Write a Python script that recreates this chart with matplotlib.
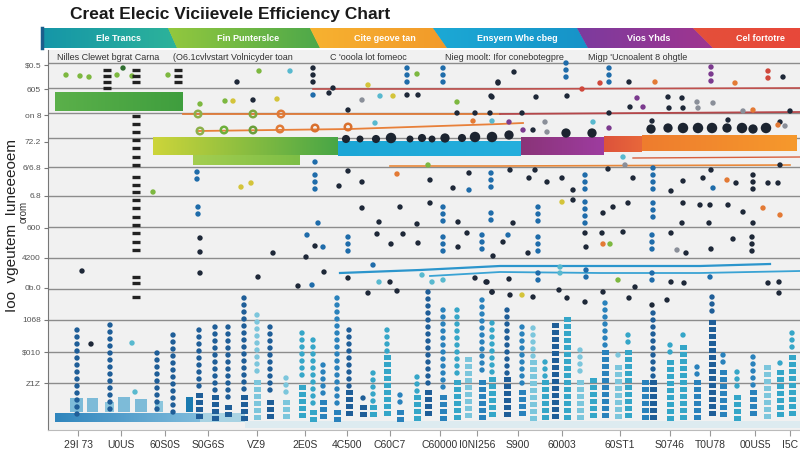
import numpy as np
import matplotlib
matplotlib.use("Agg")
import matplotlib.pyplot as plt
from matplotlib.patches import Polygon
from matplotlib.colors import LinearSegmentedColormap

plt.rcParams['font.family'] = ['Liberation Sans', 'DejaVu Sans']

# ---------------- data ----------------
title = "Creat Elecic Viciievele Efficiency Chart"
banner_labels = ["Ele Trancs", "Fin Punterslce", "Cite geove tan", "Ensyern Whe cbeg", "Vios Yhds", "Cel fortotre"]
banner_label_x = [118, 248, 385, 517, 649, 760]
banner_top = [43, 168, 310, 433, 577, 693, 800]
banner_bot = [43, 177, 320, 447, 588, 713, 800]
banner_c0 = ['#1596A8', '#93C83E', '#F7B230', '#1CA9D5', '#7C3B9E', '#E4503A']
banner_c1 = ['#2DB39A', '#4DA84A', '#F29A2A', '#1793C8', '#A0358F', '#E8483A']

sub_labels = ["Nilles Clewet bgrat Carna", "(O6.1cvlvstart Volnicyder toan", "C 'ooola lot fomeoc",
              "Nieg moolt: Ifor conebotegpre", "Migp 'Ucnoalent 8 ohgtle"]
sub_x = [57, 173, 330, 445, 588]

ytick_pos = [65, 89, 115, 142, 168, 196, 228, 258, 288, 320, 352, 383]
ytick_lab = ["$0.5", "605", "on 8", "72.2", "6/6.8", "6.8", "600", "4200", "0b.0", "1068", "$010", "Z1Z"]
grid_pos = [63, 88, 113, 138, 167, 196, 227, 258, 289, 320, 352, 383]

xtick_pos = [78, 121, 165, 208, 257, 305, 347, 390, 440, 477, 518, 562, 620, 670, 710, 755, 790]
xtick_lab = ["29I 73", "U0US", "60S0S", "S0G6S", "VZ9", "2E0S", "4C500", "C60C7", "C60000", "I0NI256",
             "S900", "60003", "60ST1", "S0746", "T0U78", "00US5", "I5C"]

# horizontal range bars
hb_left = [55, 153, 193, 338, 521, 604, 642]
hb_right = [183, 338, 300, 521, 604, 642, 797]
hb_top = [92, 137, 155, 141, 137, 136, 135]
hb_bot = [111, 155, 165, 156, 155, 152, 151]
hb_c0 = ['#5BB04A', '#CDD53A', '#A4CE50', '#1BA6D6', '#8A3478', '#DD533B', '#EE7C2E']
hb_c1 = ['#3F9E3E', '#48A646', '#7DBE46', '#25AFDD', '#9E3CA0', '#E8673A', '#F6992C']

# base bars (bottom)
base_left = [55, 200, 245]
base_right = [200, 245, 800]
base_top = [413, 413, 421]
base_bot = [422, 422, 428]
base_col = ['#3A8EC2', '#A9D3E3', '#DDEBF0']
box_left = [70, 87, 105, 118, 135, 155, 186]
box_right = [83, 98, 114, 130, 147, 163, 193]
box_top = [398, 398, 402, 397, 399, 401, 397]
box_col = ['#7DBBD8', '#7DBBD8', '#8CC6DD', '#7DBBD8', '#7DBBD8', '#8CC6DD', '#1A7AB0']

# unit columns: position, top of dots, top of blocks, colour code
col_x = [77, 110, 157, 173, 199, 215, 228, 244, 257, 270, 286, 302, 313, 323, 337, 349, 363, 373, 387, 400,
         417, 428, 443, 457, 468, 482, 492, 507, 522, 533, 545, 555, 567, 580, 593, 605, 618, 628, 645, 653,
         670, 683, 697, 712, 723, 737, 753, 767, 780, 792]
col_dot_top = [330, 325, 353, 335, 330, 327, 327, 298, 315, 327, 378, 333, 340, 365, 298, 330, 398, 373, 330, 395,
               377, 292, 310, 310, 357, 300, 323, 310, 327, 328, 362, 323, 317, 350, 378, 303, 355, 335, 380, 313,
               345, 335, 367, 297, 355, 372, 357, 363, 363, 333]
col_block_top = [418, 418, 418, 418, 393, 395, 405, 395, 380, 400, 400, 385, 410, 400, 410, 390, 405, 405, 355, 410,
                 395, 390, 395, 380, 357, 380, 377, 377, 390, 360, 380, 323, 317, 380, 378, 350, 365, 350, 380, 380,
                 360, 345, 380, 320, 370, 395, 390, 365, 370, 355]
col_code = list("DDDDDDDDLDLTTMMDDTTMTDMTLMTDMLTDTLTMLTMDTTMDMTMLTT")

# short dot stacks in upper area: (x, top, bottom, colour)
stacks = [(313, 68, 82, 'k'), (407, 68, 83, 'b'), (443, 68, 83, 'b'), (197, 172, 185, 'b'), (315, 175, 190, 'b'),
          (491, 173, 190, 'b'), (198, 207, 220, 'b'), (443, 207, 223, 'b'), (491, 213, 223, 'b'),
          (566, 63, 82, 'b'), (609, 68, 82, 'b'), (711, 67, 81, 'p'), (768, 71, 82, 'r'), (585, 175, 190, 'b'),
          (653, 168, 192, 'b'), (753, 175, 189, 'k'), (538, 207, 223, 'b'), (585, 202, 223, 'b'),
          (653, 203, 223, 'b'), (348, 237, 252, 'b'), (443, 237, 253, 'b'), (482, 235, 252, 'b'),
          (538, 237, 252, 'b'), (652, 235, 252, 'b'), (752, 237, 251, 'k'), (538, 273, 285, 'b'),
          (586, 270, 283, 'b'), (652, 273, 285, 'b')]

# scattered single points: (x, y, colour)
points = [
    (237, 82, 'k'), (253, 100, 'k'), (333, 88, 'k'), (329, 93, 'k'), (313, 95, 'b'), (348, 110, 'k'),
    (407, 95, 'k'), (418, 95, 'k'), (498, 82, 'k'), (492, 97, 'k'), (457, 113, 'k'), (475, 113, 'k'),
    (315, 162, 'b'), (339, 186, 'k'), (362, 182, 'k'), (348, 171, 'k'), (430, 180, 'k'), (453, 188, 'k'),
    (469, 190, 'b'), (469, 173, 'k'), (362, 208, 'k'), (400, 207, 'k'), (430, 203, 'k'), (318, 223, 'b'),
    (379, 222, 'k'), (417, 224, 'k'), (458, 222, 'k'),
    (259, 71, 'g'), (290, 71, 'l'), (368, 85, 'y'), (417, 74, 'g'), (200, 104, 'g'), (225, 101, 'g'),
    (233, 101, 'y'), (277, 99, 'y'), (362, 100, 'a'), (380, 96, 'l'), (393, 96, 'y'), (457, 102, 'g'),
    (241, 187, 'y'), (251, 183, 'y'), (397, 174, 'o'), (428, 165, 'g'), (375, 123, 'l'), (473, 121, 'o'),
    (492, 121, 'l'),
    (514, 72, 'k'), (498, 83, 'k'), (629, 82, 'k'), (491, 96, 'k'), (536, 97, 'k'), (567, 96, 'k'),
    (668, 97, 'k'), (682, 98, 'k'), (697, 102, 'a'), (783, 77, 'k'), (735, 83, 'o'), (655, 82, 'o'),
    (600, 83, 'r'), (582, 89, 'r'), (652, 121, 'k'), (728, 120, 'k'), (780, 122, 'k'), (609, 113, 'k'),
    (522, 113, 'k'), (490, 113, 'k'), (545, 122, 'a'), (593, 122, 'l'), (713, 103, 'a'), (743, 111, 'a'),
    (753, 110, 'o'), (790, 111, 'k'), (637, 98, 'p'), (643, 107, 'p'), (630, 107, 'k'), (669, 108, 'k'),
    (683, 108, 'k'), (698, 108, 'a'), (509, 122, 'p'), (523, 130, 'p'), (533, 130, 'k'), (547, 132, 'a'),
    (609, 128, 'p'), (778, 125, 'o'), (785, 126, 'a'),
    (510, 170, 'k'), (529, 178, 'k'), (535, 170, 'k'), (547, 182, 'k'), (562, 178, 'k'), (573, 190, 'k'),
    (608, 169, 'k'), (633, 178, 'k'), (671, 191, 'k'), (683, 181, 'k'), (703, 178, 'k'), (711, 170, 'k'),
    (727, 180, 'o'), (736, 183, 'k'), (768, 183, 'k'), (778, 183, 'k'), (780, 165, 'k'), (713, 188, 'b'),
    (625, 165, 'a'), (623, 157, 'l'), (562, 202, 'y'), (513, 223, 'k'), (573, 200, 'k'), (613, 207, 'k'),
    (603, 213, 'k'), (628, 203, 'k'), (683, 203, 'k'), (700, 205, 'k'), (710, 205, 'k'), (728, 205, 'k'),
    (682, 223, 'k'), (709, 223, 'k'), (743, 212, 'k'), (763, 208, 'o'), (780, 215, 'o'), (753, 223, 'k'),
    (200, 238, 'k'), (200, 252, 'k'), (200, 273, 'k'), (273, 253, 'k'), (307, 235, 'b'), (315, 246, 'k'),
    (323, 247, 'b'), (306, 257, 'k'), (377, 234, 'k'), (391, 244, 'k'), (403, 234, 'k'), (418, 243, 'k'),
    (458, 247, 'k'), (467, 233, 'k'), (493, 256, 'k'), (258, 277, 'k'), (324, 272, 'k'), (298, 286, 'k'),
    (312, 285, 'b'), (373, 265, 'b'), (390, 282, 'k'), (379, 282, 'l'), (368, 293, 'k'), (397, 291, 'k'),
    (348, 278, 'k'), (422, 275, 'l'), (432, 282, 'l'), (443, 280, 'l'), (475, 278, 'k'), (486, 282, 'k'),
    (492, 292, 'k'),
    (508, 235, 'b'), (503, 242, 'k'), (528, 253, 'k'), (585, 233, 'k'), (586, 247, 'k'), (602, 233, 'k'),
    (623, 232, 'k'), (671, 233, 'k'), (677, 250, 'a'), (686, 253, 'k'), (711, 249, 'k'), (733, 239, 'k'),
    (603, 244, 'o'), (610, 244, 'g'), (560, 267, 'l'), (560, 273, 'l'), (618, 280, 'g'), (635, 287, 'k'),
    (671, 282, 'k'), (684, 283, 'k'), (710, 277, 'b'), (768, 283, 'k'), (779, 282, 'k'), (779, 293, 'k'),
    (487, 282, 'k'), (509, 279, 'k'), (492, 292, 'k'), (510, 295, 'k'), (522, 295, 'y'), (533, 297, 'k'),
    (559, 290, 'k'), (567, 298, 'k'), (585, 302, 'k'), (603, 292, 'k'), (629, 298, 'k'), (652, 305, 'k'),
    (667, 300, 'k'),
    (82, 271, 'k'), (153, 192, 'g'), (91, 344, 'k'), (135, 392, 'l'), (132, 343, 'l'),
    (123, 68, 'n'), (66, 75, 'g'), (80, 76, 'g'), (89, 77, 'g'), (117, 75, 'g'), (132, 76, 'g'), (168, 75, 'g'),
]

# big dark dots row
bd_x = [346, 360, 376, 391, 410, 422, 432, 445, 462, 475, 492, 509, 566, 592, 651, 668, 683, 698, 712, 727, 742, 753, 766]
bd_y = [139, 139, 139, 138, 139, 138, 139, 138, 138, 137, 137, 135, 133, 133, 129, 128, 128, 128, 128, 128, 128, 129, 128]
bd_size = [7, 6, 7, 9, 6, 7, 6, 8, 7, 9, 9, 8, 8, 8, 8, 8, 9, 9, 9, 8, 9, 8, 9]

# dashed columns
dash_x = [136] * 20 + [107] * 4 + [136] * 3 + [178] * 3
dash_y = [116, 124, 132, 140, 148, 157, 165, 177, 185, 192, 200, 208, 217, 225, 233, 242, 250, 277, 283, 297,
          70, 76, 82, 88, 70, 76, 82, 70, 76, 82]

# lines
ln1_x, ln1_y = [183, 500, 800], [114, 114, 112]
ln2_x, ln2_y = [198, 350, 500, 523], [131, 129, 124, 123]
ln3_x, ln3_y = [313, 500, 800], [89, 89, 88]
ln4_x, ln4_y = [390, 500, 790], [166, 166, 165]
ln5_x, ln5_y = [633, 800], [158, 157]
bl1_x, bl1_y = [340, 420, 500, 600, 700, 770], [273, 270, 266, 266, 266, 264]
bl2_x, bl2_y = [430, 500, 600, 700, 800], [276, 272, 273, 273, 271]
ring_x = [200, 224, 253, 280, 315, 348, 198, 253, 281]
ring_y = [131, 130, 130, 129, 128, 127, 114, 114, 114]
ring_c = ['#8DB04A', '#6DAF3A', '#6A9F3A', '#E07B39', '#D9702E', '#D9702E', '#8DB04A', '#7DA840', '#E07B39']

# ---------------- drawing ----------------
palette = {'k': '#1E2838', 'b': '#1F6CAA', 'l': '#58B9CF', 'g': '#7DB840', 'y': '#D4C43A', 'o': '#E37A35',
           'r': '#D0483C', 'p': '#7B3A8E', 'a': '#8A8F99', 'n': '#2F6E2F',
           'D': '#1F5E98', 'M': '#2A82BC', 'T': '#35A6C8', 'L': '#7CC6DC'}

fig = plt.figure(figsize=(8, 4.57), dpi=100)
fig.patch.set_facecolor('white')

bg = fig.add_axes([0, 0, 1, 1])
bg.axis('off')


def grad(ax, patch, c0, c1, x0, x1, y0, y1, z):
    cmap = LinearSegmentedColormap.from_list('g', [c0, c1])
    im = ax.imshow(np.linspace(0, 1, 256)[None, :], cmap=cmap, aspect='auto',
                   extent=(x0, x1, y1, y0), zorder=z, interpolation='bicubic')
    im.set_clip_path(patch)


for i in range(6):
    poly = Polygon([(banner_top[i], 28), (banner_top[i + 1], 28), (banner_bot[i + 1], 48), (banner_bot[i], 48)],
                   closed=True, facecolor=banner_c0[i], edgecolor='none', zorder=1)
    bg.add_patch(poly)
    grad(bg, poly, banner_c0[i], banner_c1[i], min(banner_top[i], banner_bot[i]),
         max(banner_top[i + 1], banner_bot[i + 1]), 28, 48, 2)
    bg.text(banner_label_x[i], 38.5, banner_labels[i], color='white', fontsize=6.5, fontweight='bold',
            ha='center', va='center', zorder=3)
bg.plot([42, 42], [28, 48], color='#1B5E8C', lw=2.5, zorder=3)
bg.set_xlim(0, 800)
bg.set_ylim(457, 0)

bg.text(230, 14, title, fontsize=12.5, fontweight='bold', color='#1A1A1A', ha='center', va='center')
bg.text(12, 225, "Ioo  vgeutem  Iuneeeoem", rotation=90, fontsize=11, color='#222222', ha='center', va='center')
bg.text(24, 212, "orom", rotation=90, fontsize=7, color='#333333', ha='center', va='center')

ax = fig.add_axes([48 / 800, 1 - 430 / 457, 752 / 800, 380 / 457])
ax.set_facecolor('#F1F1F1')
for s in ['top', 'right']:
    ax.spines[s].set_visible(False)
ax.spines['left'].set_color('#777777')
ax.spines['bottom'].set_color('#BBBBBB')

for g in grid_pos:
    ax.axhline(g, color='#8C8C8C', lw=1.0, zorder=1)

for i, t in enumerate(sub_labels):
    ax.text(sub_x[i], 57, t, fontsize=6.5, color='#333333', ha='left', va='center', zorder=2)

for i in range(len(hb_left)):
    bars = ax.barh(y=(hb_top[i] + hb_bot[i]) / 2, width=hb_right[i] - hb_left[i], left=hb_left[i],
                   height=hb_bot[i] - hb_top[i], color=hb_c0[i], zorder=3)
    grad(ax, bars[0], hb_c0[i], hb_c1[i], hb_left[i], hb_right[i], hb_top[i], hb_bot[i], 3.5)

for i in range(len(base_left)):
    bars = ax.barh(y=(base_top[i] + base_bot[i]) / 2, width=base_right[i] - base_left[i], left=base_left[i],
                   height=base_bot[i] - base_top[i], color=base_col[i], zorder=3)
    if i == 0:
        grad(ax, bars[0], '#2F85BD', '#7FBCDC', base_left[i], base_right[i], base_top[i], base_bot[i], 3.5)
ax.bar([(l + r) / 2 for l, r in zip(box_left, box_right)], [412 - t for t in box_top],
       bottom=box_top, width=[r - l for l, r in zip(box_left, box_right)], color=box_col, zorder=3)

ax.plot(ln1_x[:2], ln1_y[:2], color='#E07B39', lw=1.3, zorder=4)
ax.plot(ln1_x[1:], ln1_y[1:], color='#B5474A', lw=1.3, zorder=4)
ax.plot(ln2_x, ln2_y, color='#E8803A', lw=1.3, zorder=4)
ax.plot(ln3_x, ln3_y, color='#C0504D', lw=1.2, zorder=2)
ax.plot(ln4_x, ln4_y, color='#E8883A', lw=1.2, zorder=4)
ax.plot(ln5_x, ln5_y, color='#D8603E', lw=1.0, zorder=4)
ax.plot(bl1_x, bl1_y, color='#2B95CC', lw=1.6, zorder=4)
ax.plot(bl2_x, bl2_y, color='#3AA3D4', lw=1.3, zorder=4)
ax.scatter(ring_x, ring_y, s=22, c='none', edgecolors=ring_c, linewidths=1.8, zorder=5)

dx, dy, bx, by, bc, dc = [], [], [], [], [], []
for x, t, b, c in zip(col_x, col_dot_top, col_block_top, col_code):
    for y in np.arange(t, b - 3, 7):
        dx.append(x); dy.append(y); dc.append(palette[c])
    for y in np.arange(b, 418, 7):
        bx.append(x); by.append(y); bc.append(palette[c])
ax.scatter(dx, dy, s=15, c=dc, linewidths=0, zorder=5)
if bx:
    ax.bar(bx, [5] * len(by), bottom=by, width=7, color=bc, zorder=5)

mx, my, mcc = [], [], []
for x, t, b, c in stacks:
    for y in np.arange(t, b + 1, 7):
        mx.append(x); my.append(y); mcc.append(palette[c])
ax.scatter(mx, my, s=15, c=mcc, linewidths=0, zorder=5)

pt_x = [p[0] for p in points]
pt_y = [p[1] for p in points]
pt_c = [palette[p[2]] for p in points]
ax.scatter(pt_x, pt_y, s=15, c=pt_c, linewidths=0, zorder=5)
ax.scatter(bd_x, bd_y, s=[v * v * 0.7 for v in bd_size], c='#1C2430', linewidths=0, zorder=6)
ax.scatter(dash_x, dash_y, marker='_', s=28, c='#222222', linewidths=2.4, zorder=5)

ax.set_xlim(48, 800)
ax.set_ylim(430, 50)
ax.set_yticks(ytick_pos)
ax.set_yticklabels(ytick_lab, fontsize=6, color='#555555')
ax.tick_params(axis='y', length=3, color='#777777', pad=2)
ax.set_xticks(xtick_pos)
ax.set_xticklabels(xtick_lab, fontsize=7.5, color='#333333')
ax.tick_params(axis='x', length=4, color='#999999', pad=3)

fig.savefig('out.png', dpi=100, facecolor='white')
